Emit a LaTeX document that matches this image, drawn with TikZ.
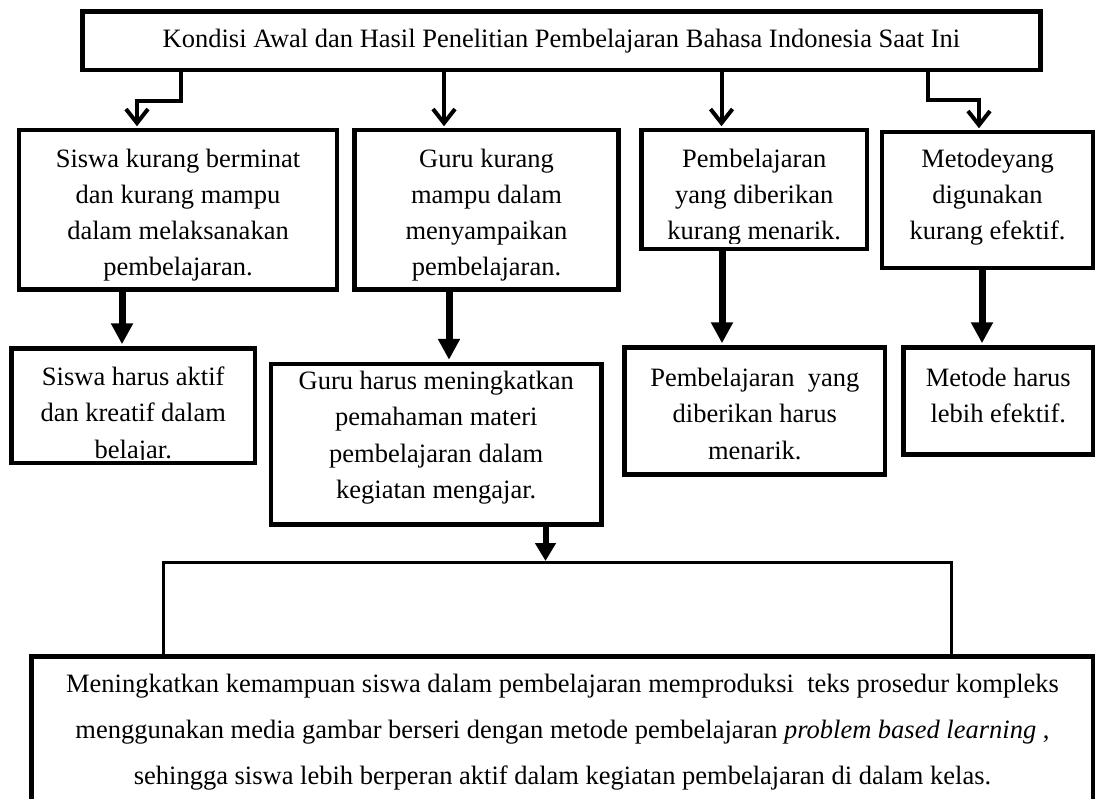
\documentclass[tikz,border=0pt]{standalone}
\usepackage{fontspec}
\setmainfont{Liberation Serif}
\usetikzlibrary{arrows.meta}
\tikzset{
  boxnode/.style={draw=black, line width=4.5pt, rectangle, inner sep=0pt, fill=none},
  txt/.style={align=center, inner sep=0pt, font=\fontsize{26.5}{36.5}\selectfont},
  txtrow/.style={txt, font=\fontsize{26.5}{36}\selectfont},
  txtbig/.style={txt, font=\fontsize{26.5}{46}\selectfont},
  toparrow/.style={draw=black, line width=4pt, -{Straight Barb[length=14pt,width=22pt]}, shorten >=1.5pt},
  fatarrow/.style={draw=black, line width=7pt, -{Triangle[length=21pt,width=21pt]}, shorten >=2pt},
  bracketline/.style={draw=black, line width=3pt}
}
\begin{document}
\begin{tikzpicture}[x=1pt, y=-1pt]
\useasboundingbox (0,0) rectangle (1095,798);
\clip (0,0) rectangle (1095,798);
\fill[white] (0,0) rectangle (1095,798);

% boxes
\node[boxnode, minimum width=958pt, minimum height=58.5pt] (top) at (561.5,40.75) {};
\node[boxnode, minimum width=318pt, minimum height=159.5pt] (b1) at (178,209.75) {};
\node[boxnode, minimum width=264pt, minimum height=159.5pt] (b2) at (486.5,209.75) {};
\node[boxnode, minimum width=225.5pt, minimum height=119pt] (b3) at (754.25,189.5) {};
\node[boxnode, minimum width=211pt, minimum height=136pt] (b4) at (987.5,200) {};
\node[boxnode, minimum width=243.5pt, minimum height=114.5pt] (c1) at (133.25,405.75) {};
\node[boxnode, minimum width=330.5pt, minimum height=160.5pt] (c2) at (436.25,444.25) {};
\node[boxnode, minimum width=260.5pt, minimum height=127pt] (c3) at (754.75,411) {};
\node[boxnode, minimum width=189.5pt, minimum height=107pt] (c4) at (998.25,401) {};
\node[boxnode, minimum width=1062pt, minimum height=173.5pt] (bot) at (562.5,743.25) {};

% texts
\node[txt] (tt) at (561.5,40.9) {Kondisi Awal dan Hasil Penelitian Pembelajaran Bahasa Indonesia Saat Ini};
\node[txtrow] (t1) at (178,214.9) {Siswa kurang berminat\\dan kurang mampu\\dalam melaksanakan\\pembelajaran.};
\node[txtrow] (t2) at (486.5,214.9) {Guru kurang\\mampu dalam\\menyampaikan\\pembelajaran.};
\begin{scope}
\clip (641.5,130) rectangle (867,243);
\node[txtrow] (t3) at (754.25,196.9) {Pembelajaran\\yang diberikan\\kurang menarik.};
\end{scope}
\node[txtrow] (t4) at (987.5,196.9) {Metodeyang\\digunakan\\kurang efektif.};
\begin{scope}
\clip (11.5,348.5) rectangle (255,459);
\node[txt] (t5) at (133.25,415.4) {Siswa harus aktif\\dan kreatif dalam\\belajar.};
\end{scope}
\node[txt] (t6) at (436.25,437.7) {Guru harus meningkatkan\\pemahaman materi\\pembelajaran dalam\\kegiatan mengajar.};
\node[txt] (t7) at (754.75,413.5) {Pembelajaran\ \ yang\\diberikan harus\\menarik.};
\node[txt] (t8) at (998.25,395.25) {Metode harus\\lebih efektif.};
\node[txtbig] (tb) at (562.5,732.4) {Meningkatkan kemampuan siswa dalam pembelajaran memproduksi\ \ teks prosedur kompleks\\menggunakan media gambar berseri dengan metode pembelajaran \textit{problem based learning}\ ,\\sehingga siswa lebih berperan aktif dalam kegiatan pembelajaran di dalam kelas.};

% coordinates for connectors
\coordinate (e1) at (181,101);
\coordinate (e1b) at (137,101);
\coordinate (x2) at (444,0);
\coordinate (x3) at (721.5,0);
\coordinate (e4) at (928,100);
\coordinate (e4b) at (979,100);
\coordinate (f1) at (122,0);
\coordinate (f2) at (449,0);
\coordinate (f3) at (722,0);
\coordinate (f4) at (982,0);
\coordinate (ac) at (545.5,0);
\coordinate (brl) at (163,562);
\coordinate (brr) at (951,562);

% top arrows
\draw[toparrow] (top.south -| e1) -- (e1) -- (e1b) -- (b1.north -| e1b);
\draw[toparrow] (top.south -| x2) -- (b2.north -| x2);
\draw[toparrow] (top.south -| x3) -- (b3.north -| x3);
\draw[toparrow] (top.south -| e4) -- (e4) -- (e4b) -- (b4.north -| e4b);

% thick arrows
\draw[fatarrow] (b1.south -| f1) -- (c1.north -| f1);
\draw[fatarrow] (b2.south -| f2) -- (c2.north -| f2);
\draw[fatarrow] (b3.south -| f3) -- (c3.north -| f3);
\draw[fatarrow] (b4.south -| f4) -- (c4.north -| f4);
\draw[fatarrow, line width=6pt, -{Triangle[length=18pt,width=20pt]}, shorten >=1pt] (c2.south -| ac) -- (brl -| ac);

% bracket
\draw[bracketline] (bot.north -| brl) |- (brr) -- (bot.north -| brr);
\end{tikzpicture}
\end{document}
